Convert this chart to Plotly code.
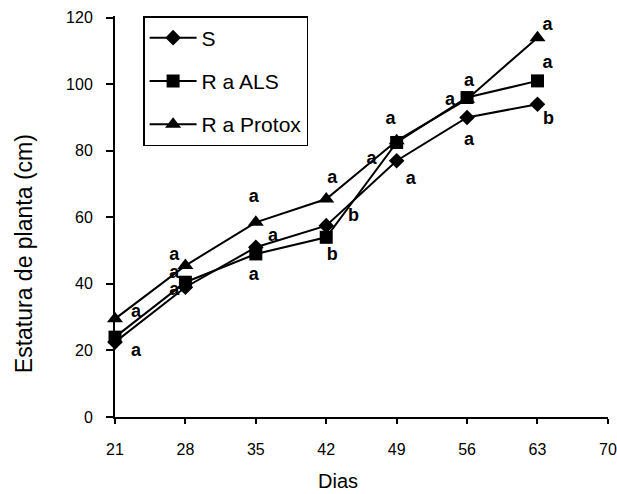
import plotly.graph_objects as go

dias = [21, 28, 35, 42, 49, 56, 63]
x_ticks = [21, 28, 35, 42, 49, 56, 63, 70]
y_ticks = [0, 20, 40, 60, 80, 100, 120]

S = [22.5, 39, 51, 57.5, 77, 90, 94]
R_ALS = [24, 40.5, 49, 54, 82.5, 96, 101]
R_Protox = [29.5, 45.5, 58.5, 65.5, 83, 95.5, 114]

S_letters = ["a", "a", "a", "b", "a", "a", "b"]
ALS_letters = ["a", "a", "a", "b", "a", "a", "a"]
Protox_letters = ["a", "a", "a", "a", "a", "a", "a"]

# label offsets (days, cm) relative to each point
S_off = [(2.1, -2.7), (-1.1, -1.0), (1.7, 3.3), (2.7, 2.7), (1.4, -5.5), (0.2, -6.8), (1.1, -4.7)]
ALS_off = [(-1.9, 1.7), (-1.1, 2.5), (-0.2, -6.5), (0.6, -5.5), (-0.6, 6.8), (0.2, 4.8), (1.0, 5.2)]
Protox_off = [(2.1, 2.0), (-1.1, 3.0), (-0.2, 7.5), (0.6, 6.2), (-2.5, -5.5), (-1.7, -0.3), (1.0, 3.8)]

FONT = "Liberation Sans, Arial, sans-serif"

fig = go.Figure()

# significance letters (drawn first so markers sit on top)
for vals, letters, offs in [(S, S_letters, S_off), (R_ALS, ALS_letters, ALS_off), (R_Protox, Protox_letters, Protox_off)]:
    fig.add_trace(go.Scatter(
        x=[d + o[0] for d, o in zip(dias, offs)],
        y=[v + o[1] for v, o in zip(vals, offs)],
        text=letters, mode="text", showlegend=False, hoverinfo="skip",
        textfont=dict(family=FONT, size=18, color="black", weight="bold"),
        cliponaxis=False,
    ))

series = [
    ("S", S, "diamond", 12),
    ("R a ALS", R_ALS, "square", 13),
    ("R a Protox", R_Protox, "triangle-up", 14),
]
for name, vals, sym, sz in series:
    fig.add_trace(go.Scatter(
        x=dias, y=vals, name=name, mode="lines+markers", legendgroup=name,
        line=dict(color="black", width=2),
        marker=dict(symbol=sym, size=sz, color="black"),
        cliponaxis=False,
    ))

fig.update_layout(
    width=617, height=494,
    margin=dict(l=115, r=9, t=16, b=77),
    paper_bgcolor="white", plot_bgcolor="white",
    font=dict(family=FONT, color="black", size=16),
    showlegend=True,
    legend=dict(
        x=0.057, y=1, xanchor="left", yanchor="top",
        bordercolor="black", borderwidth=1.5, bgcolor="white",
        font=dict(family=FONT, size=21, color="black"),
        tracegroupgap=13, itemwidth=47,
    ),
    xaxis=dict(
        range=[21, 70.01], tickvals=x_ticks, ticktext=[str(t) for t in x_ticks],
        showline=True, linecolor="black", linewidth=2,
        ticks="outside", ticklen=5, tickwidth=2, tickcolor="black",
        showgrid=False, zeroline=False, ticklabelstandoff=12,
        tickfont=dict(size=16), automargin=False,
    ),
    yaxis=dict(
        range=[0, 120.5], tickvals=y_ticks,
        showline=True, linecolor="black", linewidth=2,
        ticks="outside", ticklen=7, tickwidth=2, tickcolor="black",
        showgrid=False, zeroline=False, ticklabelstandoff=10,
        tickfont=dict(size=16), automargin=False,
    ),
    annotations=[
        dict(text="Dias", xref="paper", yref="paper", x=0.453, y=0, yshift=-76,
             xanchor="center", yanchor="bottom", showarrow=False, borderpad=0,
             font=dict(family=FONT, size=20, color="black")),
        dict(text="Estatura de planta (cm)", xref="paper", yref="paper", x=0, y=0.406,
             xshift=-91, xanchor="center", yanchor="middle", textangle=-90, showarrow=False,
             font=dict(family=FONT, size=23, color="black")),
    ],
)

fig.write_html(
    "out.html",
    config={"displayModeBar": False},
    post_script="document.body.style.margin='0';document.body.style.overflow='hidden';",
)
